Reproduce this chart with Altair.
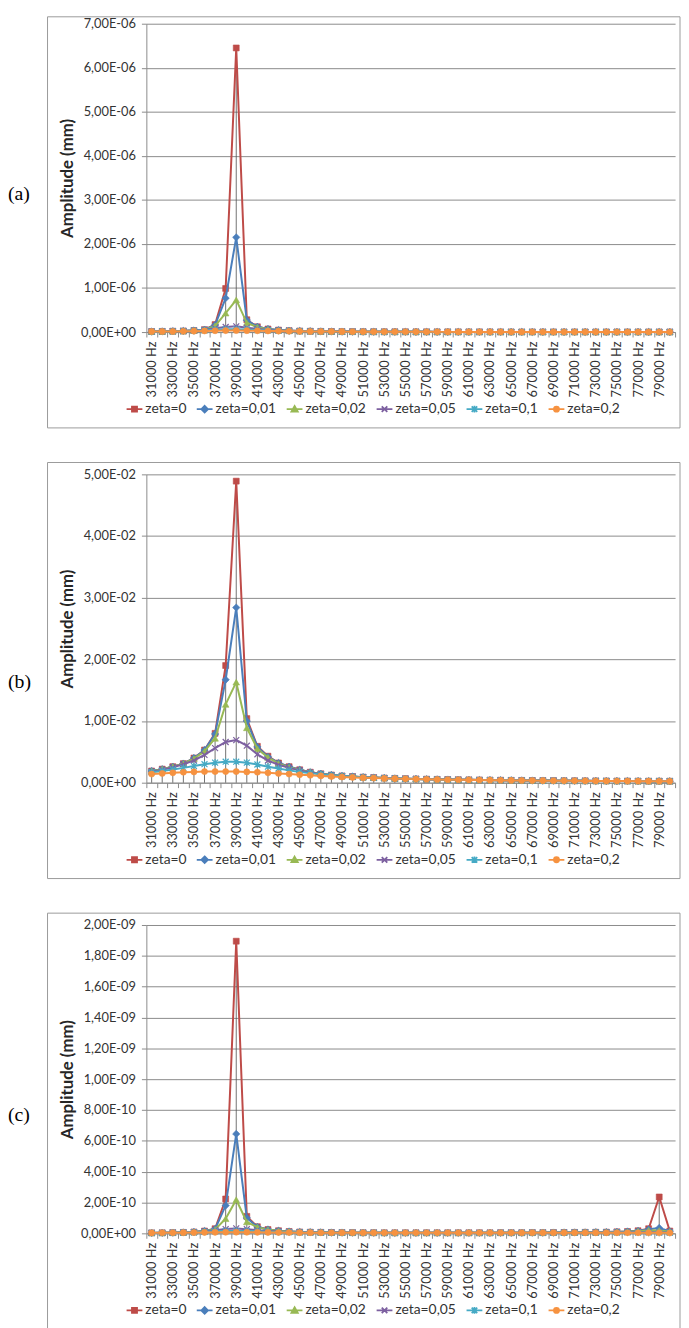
import altair as alt
import pandas as pd

# ---------------- categories / series ----------------
FREQ = list(range(31000, 81000, 1000))  # 50 categories, 31000 Hz ... 80000 Hz
SERIES = ["zeta=0", "zeta=0,01", "zeta=0,02", "zeta=0,05", "zeta=0,1", "zeta=0,2"]
COLORS = ["#BE4B48", "#4A7EBB", "#98B954", "#7D60A0", "#46AAC5", "#F69240"]

# ---------------- panel (a) values, unit 1E-06 mm ----------------
A_UNIT = 1e-6
A_Z0 = [0.012, 0.015, 0.019, 0.025, 0.035, 0.055, 0.17, 0.99, 6.45, 0.28,
        0.12, 0.07, 0.045, 0.032, 0.024, 0.019, 0.015, 0.012, 0.010, 0.009,
        0.008, 0.007, 0.0065, 0.006, 0.0055, 0.005, 0.0045, 0.0042, 0.004, 0.0037,
        0.0035, 0.0033, 0.0031, 0.003, 0.0028, 0.0027, 0.0026, 0.0025, 0.0024, 0.0023,
        0.0022, 0.0021, 0.002, 0.002, 0.0019, 0.0018, 0.0018, 0.0017, 0.0017, 0.0016]
A_Z001 = [0.012, 0.015, 0.019, 0.025, 0.035, 0.055, 0.16, 0.77, 2.15, 0.27,
          0.12, 0.07, 0.045, 0.032, 0.024, 0.019, 0.015, 0.012, 0.010, 0.009,
          0.008, 0.007, 0.0065, 0.006, 0.0055, 0.005, 0.0045, 0.0042, 0.004, 0.0037,
          0.0035, 0.0033, 0.0031, 0.003, 0.0028, 0.0027, 0.0026, 0.0025, 0.0024, 0.0023,
          0.0022, 0.0021, 0.002, 0.002, 0.0019, 0.0018, 0.0018, 0.0017, 0.0017, 0.0016]
A_Z002 = [0.012, 0.015, 0.019, 0.025, 0.034, 0.05, 0.14, 0.43, 0.73, 0.21,
          0.11, 0.065, 0.044, 0.032, 0.024, 0.019, 0.015, 0.012, 0.010, 0.009,
          0.008, 0.007, 0.0065, 0.006, 0.0055, 0.005, 0.0045, 0.0042, 0.004, 0.0037,
          0.0035, 0.0033, 0.0031, 0.003, 0.0028, 0.0027, 0.0026, 0.0025, 0.0024, 0.0023,
          0.0022, 0.0021, 0.002, 0.002, 0.0019, 0.0018, 0.0018, 0.0017, 0.0017, 0.0016]
A_Z005 = [0.012, 0.015, 0.019, 0.024, 0.033, 0.05, 0.085, 0.115, 0.13, 0.10,
          0.07, 0.05, 0.038, 0.03, 0.023, 0.018, 0.015, 0.012, 0.010, 0.009,
          0.008, 0.007, 0.0065, 0.006, 0.0055, 0.005, 0.0045, 0.0042, 0.004, 0.0037,
          0.0035, 0.0033, 0.0031, 0.003, 0.0028, 0.0027, 0.0026, 0.0025, 0.0024, 0.0023,
          0.0022, 0.0021, 0.002, 0.002, 0.0019, 0.0018, 0.0018, 0.0017, 0.0017, 0.0016]
A_Z01 = [0.011, 0.014, 0.017, 0.022, 0.03, 0.04, 0.055, 0.065, 0.066, 0.058,
         0.046, 0.037, 0.03, 0.025, 0.02, 0.017, 0.014, 0.012, 0.010, 0.009,
         0.008, 0.007, 0.0065, 0.006, 0.0055, 0.005, 0.0045, 0.0042, 0.004, 0.0037,
         0.0035, 0.0033, 0.0031, 0.003, 0.0028, 0.0027, 0.0026, 0.0025, 0.0024, 0.0023,
         0.0022, 0.0021, 0.002, 0.002, 0.0019, 0.0018, 0.0018, 0.0017, 0.0017, 0.0016]
A_Z02 = [0.010, 0.012, 0.014, 0.017, 0.021, 0.026, 0.03, 0.033, 0.034, 0.032,
         0.029, 0.025, 0.022, 0.019, 0.016, 0.014, 0.012, 0.011, 0.0095, 0.0085,
         0.0078, 0.007, 0.0064, 0.0059, 0.0054, 0.005, 0.0045, 0.0042, 0.004, 0.0037,
         0.0035, 0.0033, 0.0031, 0.003, 0.0028, 0.0027, 0.0026, 0.0025, 0.0024, 0.0023,
         0.0022, 0.0021, 0.002, 0.002, 0.0019, 0.0018, 0.0018, 0.0017, 0.0017, 0.0016]
A_TICKS = [0, 1e-6, 2e-6, 3e-6, 4e-6, 5e-6, 6e-6, 7e-6]

# ---------------- panel (b) values, unit 1E-03 mm ----------------
B_UNIT = 1e-3
B_Z0 = [1.9, 2.2, 2.6, 3.1, 4.0, 5.3, 8.0, 19.0, 48.9, 10.4,
        5.9, 4.3, 3.2, 2.6, 2.1, 1.7, 1.45, 1.25, 1.1, 1.0,
        0.9, 0.83, 0.76, 0.7, 0.65, 0.61, 0.57, 0.54, 0.51, 0.48,
        0.46, 0.44, 0.42, 0.4, 0.38, 0.37, 0.35, 0.34, 0.33, 0.32,
        0.31, 0.3, 0.29, 0.28, 0.27, 0.27, 0.26, 0.25, 0.25, 0.24]
B_Z001 = [1.9, 2.2, 2.6, 3.1, 4.0, 5.3, 7.9, 16.7, 28.4, 10.0,
          5.8, 4.2, 3.2, 2.6, 2.1, 1.7, 1.45, 1.25, 1.1, 1.0,
          0.9, 0.83, 0.76, 0.7, 0.65, 0.61, 0.57, 0.54, 0.51, 0.48,
          0.46, 0.44, 0.42, 0.4, 0.38, 0.37, 0.35, 0.34, 0.33, 0.32,
          0.31, 0.3, 0.29, 0.28, 0.27, 0.27, 0.26, 0.25, 0.25, 0.24]
B_Z002 = [1.9, 2.2, 2.6, 3.1, 3.9, 5.1, 7.2, 12.7, 16.3, 8.9,
          5.5, 4.1, 3.1, 2.5, 2.05, 1.7, 1.45, 1.25, 1.1, 1.0,
          0.9, 0.83, 0.76, 0.7, 0.65, 0.61, 0.57, 0.54, 0.51, 0.48,
          0.46, 0.44, 0.42, 0.4, 0.38, 0.37, 0.35, 0.34, 0.33, 0.32,
          0.31, 0.3, 0.29, 0.28, 0.27, 0.27, 0.26, 0.25, 0.25, 0.24]
B_Z005 = [1.8, 2.1, 2.5, 3.0, 3.6, 4.5, 5.6, 6.6, 6.9, 6.0,
          4.6, 3.6, 2.9, 2.4, 2.0, 1.65, 1.4, 1.22, 1.08, 0.98,
          0.89, 0.82, 0.75, 0.69, 0.64, 0.6, 0.56, 0.53, 0.5, 0.48,
          0.46, 0.44, 0.42, 0.4, 0.38, 0.37, 0.35, 0.34, 0.33, 0.32,
          0.31, 0.3, 0.29, 0.28, 0.27, 0.27, 0.26, 0.25, 0.25, 0.24]
B_Z01 = [1.7, 1.9, 2.15, 2.4, 2.7, 3.0, 3.25, 3.4, 3.4, 3.25,
         2.95, 2.6, 2.3, 2.0, 1.75, 1.55, 1.35, 1.2, 1.07, 0.96,
         0.87, 0.8, 0.74, 0.68, 0.63, 0.59, 0.55, 0.52, 0.49, 0.47,
         0.45, 0.43, 0.41, 0.39, 0.38, 0.36, 0.35, 0.34, 0.33, 0.32,
         0.31, 0.3, 0.29, 0.28, 0.27, 0.27, 0.26, 0.25, 0.25, 0.24]
B_Z02 = [1.4, 1.5, 1.6, 1.7, 1.75, 1.8, 1.8, 1.8, 1.8, 1.75,
         1.7, 1.6, 1.5, 1.4, 1.3, 1.2, 1.1, 1.0, 0.93, 0.86,
         0.8, 0.75, 0.7, 0.66, 0.62, 0.58, 0.55, 0.52, 0.49, 0.47,
         0.45, 0.43, 0.41, 0.39, 0.37, 0.36, 0.34, 0.33, 0.32, 0.31,
         0.3, 0.29, 0.28, 0.27, 0.27, 0.26, 0.25, 0.25, 0.24, 0.24]
B_TICKS = [0, 0.01, 0.02, 0.03, 0.04, 0.05]

# ---------------- panel (c) values, unit 1E-10 mm ----------------
C_UNIT = 1e-10
C_Z0 = [0.03, 0.035, 0.045, 0.06, 0.09, 0.15, 0.30, 2.23, 18.95, 1.10,
        0.43, 0.25, 0.17, 0.12, 0.09, 0.075, 0.065, 0.055, 0.05, 0.045,
        0.04, 0.04, 0.035, 0.035, 0.035, 0.035, 0.035, 0.035, 0.035, 0.035,
        0.035, 0.035, 0.035, 0.04, 0.04, 0.04, 0.045, 0.045, 0.05, 0.055,
        0.06, 0.065, 0.07, 0.08, 0.10, 0.12, 0.17, 0.30, 2.36, 0.15]
C_Z001 = [0.03, 0.035, 0.045, 0.06, 0.09, 0.15, 0.28, 1.80, 6.45, 1.00,
          0.42, 0.25, 0.17, 0.12, 0.09, 0.075, 0.065, 0.055, 0.05, 0.045,
          0.04, 0.04, 0.035, 0.035, 0.035, 0.035, 0.035, 0.035, 0.035, 0.035,
          0.035, 0.035, 0.035, 0.04, 0.04, 0.04, 0.045, 0.045, 0.05, 0.055,
          0.06, 0.065, 0.07, 0.08, 0.10, 0.12, 0.16, 0.26, 0.35, 0.14]
C_Z002 = [0.03, 0.035, 0.045, 0.06, 0.09, 0.14, 0.25, 0.95, 2.18, 0.74,
          0.40, 0.24, 0.17, 0.12, 0.09, 0.075, 0.065, 0.055, 0.05, 0.045,
          0.04, 0.04, 0.035, 0.035, 0.035, 0.035, 0.035, 0.035, 0.035, 0.035,
          0.035, 0.035, 0.035, 0.04, 0.04, 0.04, 0.045, 0.045, 0.05, 0.055,
          0.06, 0.065, 0.07, 0.08, 0.09, 0.11, 0.14, 0.20, 0.18, 0.12]
C_Z005 = [0.03, 0.035, 0.045, 0.06, 0.08, 0.12, 0.20, 0.28, 0.32, 0.27,
          0.20, 0.15, 0.12, 0.10, 0.08, 0.07, 0.06, 0.055, 0.05, 0.045,
          0.04, 0.04, 0.035, 0.035, 0.035, 0.035, 0.035, 0.035, 0.035, 0.035,
          0.035, 0.035, 0.035, 0.04, 0.04, 0.04, 0.045, 0.045, 0.05, 0.055,
          0.06, 0.06, 0.065, 0.07, 0.075, 0.08, 0.085, 0.09, 0.07, 0.06]
C_Z01 = [0.03, 0.035, 0.045, 0.055, 0.07, 0.10, 0.13, 0.15, 0.16, 0.15,
         0.13, 0.11, 0.09, 0.08, 0.07, 0.06, 0.055, 0.05, 0.045, 0.045,
         0.04, 0.04, 0.035, 0.035, 0.035, 0.035, 0.035, 0.035, 0.035, 0.035,
         0.035, 0.035, 0.035, 0.04, 0.04, 0.04, 0.045, 0.045, 0.05, 0.05,
         0.055, 0.055, 0.06, 0.06, 0.06, 0.06, 0.055, 0.05, 0.045, 0.04]
C_Z02 = [0.03, 0.035, 0.04, 0.045, 0.05, 0.06, 0.065, 0.07, 0.075, 0.07,
         0.065, 0.06, 0.055, 0.05, 0.045, 0.045, 0.04, 0.04, 0.04, 0.04,
         0.035, 0.035, 0.035, 0.035, 0.035, 0.035, 0.035, 0.035, 0.035, 0.035,
         0.035, 0.035, 0.035, 0.035, 0.035, 0.035, 0.04, 0.04, 0.04, 0.04,
         0.04, 0.04, 0.04, 0.04, 0.04, 0.04, 0.04, 0.035, 0.035, 0.03]
C_TICKS = [0, 2e-10, 4e-10, 6e-10, 8e-10, 1e-9, 1.2e-9, 1.4e-9, 1.6e-9, 1.8e-9, 2e-9]

# ---------------- styling ----------------
FONT = "Lato"
TEXT_COLOR = "#333333"
LINE_GREY = "#8a8a8a"

# plot markers (Excel-like)
MARKERS = [
    dict(shape="square", size=36, filled=True),
    dict(shape="diamond", size=55, filled=True),
    dict(shape="triangle-up", size=45, filled=True),
    dict(shape="M-1,-1L1,1M-1,1L1,-1", size=36, filled=False),
    dict(shape="M-1,-1L1,1M-1,1L1,-1M0,-1.2V1.2", size=36, filled=False),
    dict(shape="circle", size=38, filled=True),
]
# legend symbols: short line with the marker drawn in the middle
LEGEND_PATHS = [
    "M-1,0H1M-0.32,-0.32H0.32V0.32H-0.32ZM-0.15,-0.15H0.15V0.15H-0.15Z",
    "M-1,0H1M0,-0.42L0.42,0L0,0.42L-0.42,0ZM0,-0.18L0.18,0L0,0.18L-0.18,0Z",
    "M-1,0H1M0,-0.4L0.4,0.3H-0.4ZM0,-0.12L0.14,0.15H-0.14Z",
    "M-1,0H1M-0.35,-0.35L0.35,0.35M-0.35,0.35L0.35,-0.35",
    "M-1,0H1M-0.35,-0.35L0.35,0.35M-0.35,0.35L0.35,-0.35M0,-0.42V0.42",
    "M-1,0H1M0.32,0A0.32,0.32 0 1,1 -0.32,0A0.32,0.32 0 1,1 0.32,0ZM0.12,0A0.12,0.12 0 1,1 -0.12,0A0.12,0.12 0 1,1 0.12,0Z",
]

EXP = "floor(log(datum.value) / LN10 + 1e-6)"
Y_LABEL_EXPR = (
    "datum.value == 0 ? '0,00E+00' : "
    f"replace(format(datum.value / pow(10, {EXP}), '.2f'), '.', ',') + 'E-' + "
    f"({EXP} > -10 ? '0' : '') + toString(-{EXP})"
)
X_LABEL_EXPR = "(datum.value - 31000) % 2000 == 0 ? datum.value + ' Hz' : ''"

W, H = 535, 312


def panel(tag, arrays, unit, ymax, ticks, tag_y, frame_top):
    rows = []
    for s, arr in zip(SERIES, arrays):
        for f, v in zip(FREQ, arr):
            rows.append({"freq": f, "series": s, "value": v * unit})
    df = pd.DataFrame(rows)

    xscale = alt.Scale(paddingInner=0, paddingOuter=0)
    xaxis = alt.Axis(
        labelExpr=X_LABEL_EXPR, labelAngle=-90, labelFontSize=13, labelFont=FONT,
        labelColor=TEXT_COLOR, labelPadding=4, tickSize=5, tickBand="extent",
        labelOverlap=False, labelBound=False, grid=False,
        domainColor=LINE_GREY, tickColor=LINE_GREY, title=None,
    )
    yscale = alt.Scale(domain=[0, ymax], nice=False, zero=True)
    yaxis = alt.Axis(
        values=ticks, labelExpr=Y_LABEL_EXPR, labelFontSize=13, labelFont=FONT,
        labelColor=TEXT_COLOR, labelPadding=6, tickSize=5, grid=True,
        gridColor=LINE_GREY, domainColor=LINE_GREY, tickColor=LINE_GREY,
        title="Amplitude (mm)", titleFont=FONT, titleFontSize=17,
        titleFontWeight="bold", titleColor="#262626", titlePadding=4,
    )

    def X():
        return alt.X("freq:O", scale=xscale, axis=xaxis, title=None)

    def Y(field):
        return alt.Y(field, scale=yscale, axis=yaxis, title="Amplitude (mm)")

    layers = []
    # outer frame of the chart (decoration)
    layers.append(
        alt.Chart(alt.Data(values=[{"k": 1}]))
        .mark_rect(fillOpacity=0, stroke="#9a9a9a", strokeWidth=1)
        .encode(x=alt.value(-100), x2=alt.value(540),
                y=alt.value(frame_top), y2=alt.value(409))
    )
    # drop lines
    layers.append(
        alt.Chart()
        .mark_rule(color="#4d4d4d", strokeWidth=0.8)
        .encode(x=X(), y=Y("max(value):Q"), y2=alt.datum(0))
    )
    # series: line then markers, in Excel order
    for s, c, m in zip(SERIES, COLORS, MARKERS):
        base = alt.Chart().transform_filter(alt.datum.series == s)
        layers.append(
            base.mark_line(color=c, strokeWidth=2).encode(x=X(), y=Y("value:Q"))
        )
        if m["filled"]:
            pm = base.mark_point(shape=m["shape"], size=m["size"], filled=True,
                                 fill=c, stroke=c, strokeWidth=0.6, opacity=1)
        else:
            pm = base.mark_point(shape=m["shape"], size=m["size"], filled=False,
                                 stroke=c, strokeWidth=1.2, opacity=1)
        layers.append(pm.encode(x=X(), y=Y("value:Q")))

    # legend layer (draws no data marks)
    leg = alt.Legend(
        title=None, orient="none", legendX=-21, legendY=381, direction="horizontal",
        columns=6, columnPadding=6, labelFontSize=14, labelFont=FONT,
        labelColor=TEXT_COLOR, labelOffset=2, symbolSize=256,
        symbolStrokeWidth=1.8, symbolOpacity=1,
    )
    layers.append(
        alt.Chart()
        .transform_filter("false")
        .mark_point(filled=False, size=256, strokeWidth=1.8, opacity=1)
        .encode(
            color=alt.Color("series:N", scale=alt.Scale(domain=SERIES, range=COLORS), legend=leg),
            shape=alt.Shape("series:N", scale=alt.Scale(domain=SERIES, range=LEGEND_PATHS), legend=leg),
        )
    )
    # panel tag
    layers.append(
        alt.Chart(alt.Data(values=[{"k": 1}]))
        .mark_text(align="left", baseline="middle", font="Liberation Serif",
                   fontSize=20, color="#000000")
        .encode(x=alt.value(-140), y=alt.value(tag_y), text=alt.value(tag))
    )
    return alt.layer(*layers, data=df).properties(width=W, height=H)


pa = panel("(a)", [A_Z0, A_Z001, A_Z002, A_Z005, A_Z01, A_Z02], A_UNIT, 7e-6, A_TICKS, 172, -7)
pb = panel("(b)", [B_Z0, B_Z001, B_Z002, B_Z005, B_Z01, B_Z02], B_UNIT, 0.05, B_TICKS, 210, -12)
pc = panel("(c)", [C_Z0, C_Z001, C_Z002, C_Z005, C_Z01, C_Z02], C_UNIT, 2e-9, C_TICKS, 192, -12)

chart = (
    alt.vconcat(pa, pb, pc, spacing=33)
    .resolve_scale(x="independent", y="independent", color="independent", shape="independent")
    .resolve_legend(color="independent", shape="independent")
    .properties(padding={"left": 0, "top": 0, "right": 0, "bottom": 0}, background="white")
    .configure_view(stroke=None)
)

chart.save("out.html", embed_options={"renderer": "svg", "actions": False})
